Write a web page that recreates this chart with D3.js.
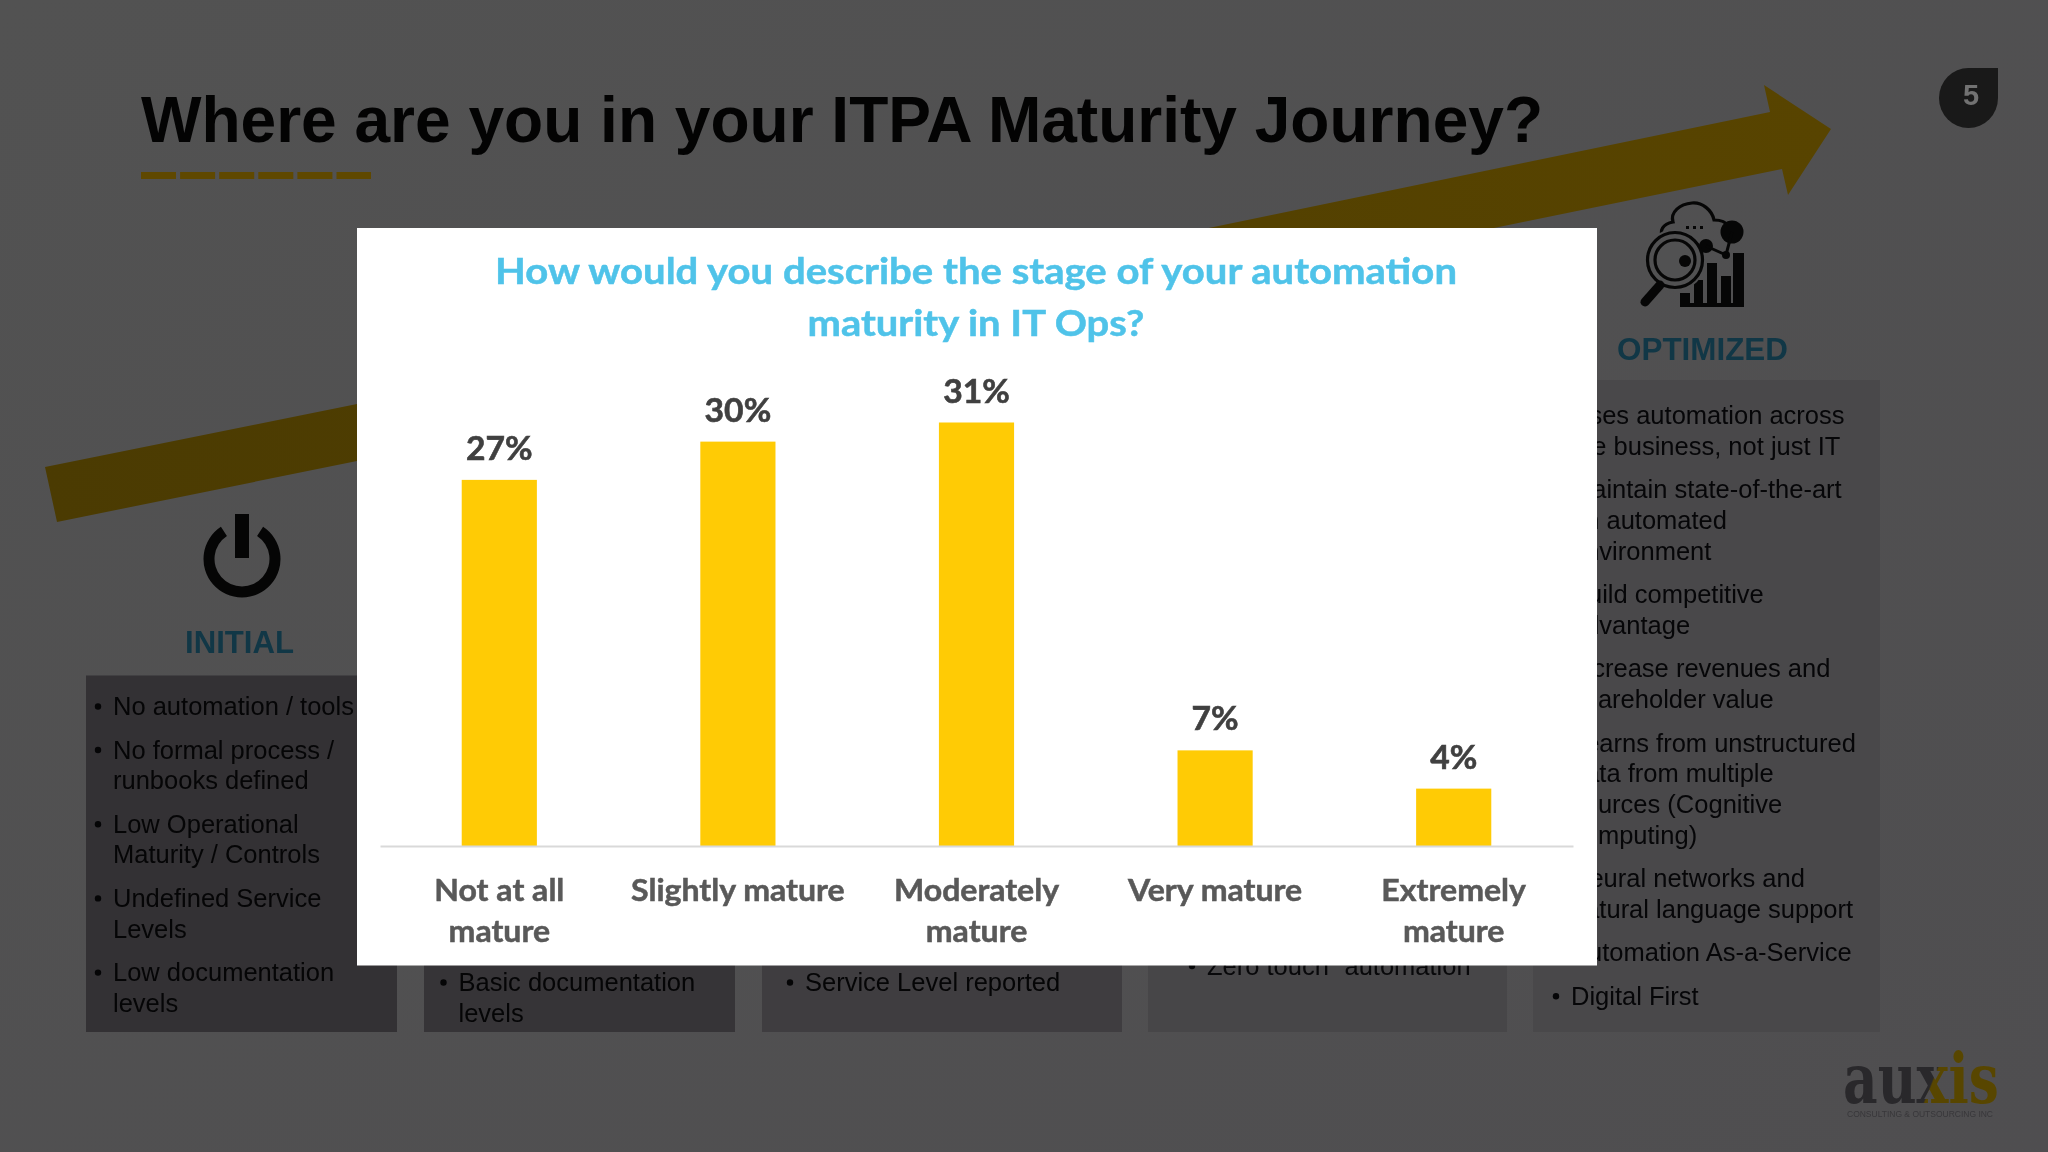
<!DOCTYPE html>
<html><head><meta charset="utf-8">
<script src="https://cdn.jsdelivr.net/npm/d3@7/dist/d3.min.js"></script>
<style>html,body{margin:0;padding:0;background:#505051;overflow:hidden}svg{display:block;filter:blur(0.45px)}</style>
</head><body><svg id="c" width="2048" height="1152"></svg>
<script>
const categories = [["Not at all","mature"],["Slightly mature"],["Moderately","mature"],["Very mature"],["Extremely","mature"]];
const categoryKeys = categories.map(d => d.join(" "));
const values = [26.8, 29.6, 31, 7.0, 4.2];
const valueLabels = ["27%","30%","31%","7%","4%"];
const chartTitle = ["How would you describe the stage of your automation","maturity in IT Ops?"];
const slideTitle = "Where are you in your ITPA Maturity Journey?";
const initialItems = [["No automation / tools"],["No formal process /","runbooks defined"],["Low Operational","Maturity / Controls"],["Undefined Service","Levels"],["Low documentation","levels"]];
const managedItems = [["Basic documentation","levels"]];
const standardItems = [["Service Level reported"]];
const advancedItems = [["Zero touch\u201D automation"]];
const optimizedItems = [["Uses automation across","the business, not just IT"],["Maintain state-of-the-art","an automated","environment"],["Build competitive","advantage"],["Increase revenues and","shareholder value"],["Learns from unstructured","data from multiple","sources (Cognitive","computing)"],["Neural networks and","natural language support"],["Automation As-a-Service"],["Digital First"]];

const svg = d3.select("#c");
const defs = svg.append("defs");
const bg = defs.append("linearGradient").attr("id","bg").attr("x1",0).attr("y1",0).attr("x2",1).attr("y2",1);
bg.append("stop").attr("offset",0).attr("stop-color","#525252");
bg.append("stop").attr("offset",1).attr("stop-color","#4f4e50");
const ag = defs.append("linearGradient").attr("id","arrowG").attr("gradientUnits","userSpaceOnUse").attr("x1",45).attr("y1",490).attr("x2",1830).attr("y2",130);
ag.append("stop").attr("offset",0).attr("stop-color","#4b3b02");
ag.append("stop").attr("offset",1).attr("stop-color","#584400");
const lg = defs.append("linearGradient").attr("id","logoG").attr("gradientUnits","userSpaceOnUse").attr("x1",1930).attr("y1",1066).attr("x2",1945).attr("y2",1072);
lg.append("stop").attr("offset",0.45).attr("stop-color","#29282b");
lg.append("stop").attr("offset",0.55).attr("stop-color","#584600");
svg.append("rect").attr("width",2048).attr("height",1152).attr("fill","url(#bg)");

// slide title
svg.append("text").attr("x",141).attr("y",141.5).attr("font-family","Liberation Sans").attr("font-weight",700)
  .attr("font-size",64).attr("fill","#030303").attr("textLength",1402).attr("lengthAdjust","spacingAndGlyphs").text(slideTitle);
// dashes
svg.append("line").attr("x1",141).attr("x2",371).attr("y1",175.5).attr("y2",175.5).attr("stroke","#5f4800").attr("stroke-width",7)
  .attr("stroke-dasharray","35 4.1");

// arrow
svg.append("path").attr("fill","url(#arrowG)").attr("d","M45,467 L357,404 L1770,112 L1764,85 L1831,129 L1788,195 L1782,169 L357,461 L57,522 Z");

// boxes
const boxes = [
 {x:86,w:311,y:675.5,f:"#333134"},{x:424,w:311,y:675.5,f:"#363437"},{x:762,w:360,y:675.5,f:"#3f3d40"},
 {x:1148,w:359,y:675.5,f:"#474648"},{x:1533,w:347,y:380,f:"#49484a"}];
svg.selectAll("rect.box").data(boxes).join("rect").attr("class","box")
  .attr("x",d=>d.x).attr("y",d=>d.y).attr("width",d=>d.w).attr("height",d=>1032-d.y).attr("fill",d=>d.f);

// bullet lists
function list(items,x,y0,color){
  const lh=30.7, pg=43.5; let y=y0;
  const g=svg.append("g").attr("font-family","Liberation Sans").attr("font-size",25.5).attr("fill",color);
  items.forEach(par=>{
    g.append("circle").attr("cx",x-15).attr("cy",y-8.5).attr("r",3.2).attr("fill",color);
    par.forEach((t,i)=>{g.append("text").attr("x",x).attr("y",y).text(t); y+= i<par.length-1?lh:pg;});
  });
}
list(initialItems,113,715,"#050506");
list(managedItems,458.5,991,"#050506");
list(standardItems,805,991,"#050506");
list(advancedItems,1207,974.5,"#08080a");
list(optimizedItems,1571,424,"#060608");

// stage headings
const heads=[["INITIAL",185,652.5,109],["OPTIMIZED",1617,360,171]];
heads.forEach(h=>svg.append("text").attr("x",h[1]).attr("y",h[2]).attr("font-family","Liberation Sans").attr("font-weight",700)
  .attr("font-size",31.5).attr("fill","#113746").attr("textLength",h[3]).attr("lengthAdjust","spacingAndGlyphs").text(h[0]));

// power icon
const pow=svg.append("g").attr("transform","translate(242,559)").attr("fill","#050505");
pow.append("path").attr("d",d3.arc()({innerRadius:27.5,outerRadius:38.5,startAngle:0.58,endAngle:2*Math.PI-0.58}));
pow.append("rect").attr("x",-7).attr("y",-45).attr("width",14).attr("height",44);

// optimized icon
const ic=svg.append("g").attr("fill","#060606");
ic.append("path").attr("fill","none").attr("stroke","#060606").attr("stroke-width",3.2)
  .attr("d","M1664,238 C1658,231 1663,224 1673,222 C1670,212 1680,204 1692,203 C1702,202 1712,210 1714,220 C1720,220 1726,222 1728,226");
ic.selectAll("rect.dot").data([1686,1693,1700]).join("rect").attr("class","dot").attr("x",d=>d).attr("y",226).attr("width",3).attr("height",3);
[[1680,293,10],[1694,280,9],[1707,263,10],[1721,276,10],[1733,253,11]].forEach(b=>ic.append("rect").attr("x",b[0]).attr("y",b[1]).attr("width",b[2]).attr("height",307-b[1]));
ic.append("rect").attr("x",1680).attr("y",303).attr("width",64).attr("height",4);
ic.append("circle").attr("cx",1675).attr("cy",260).attr("r",31).attr("fill","#515152");
ic.append("circle").attr("cx",1732).attr("cy",232).attr("r",11.5);
ic.append("circle").attr("cx",1706).attr("cy",246).attr("r",7);
ic.append("circle").attr("cx",1726).attr("cy",255).attr("r",4);
ic.append("path").attr("fill","none").attr("stroke","#060606").attr("stroke-width",3).attr("d","M1706,246 L1726,255 L1732,232");
ic.append("circle").attr("cx",1675).attr("cy",260).attr("r",27.5).attr("fill","none").attr("stroke","#060606").attr("stroke-width",3.2);
ic.append("circle").attr("cx",1675).attr("cy",260).attr("r",20).attr("fill","none").attr("stroke","#060606").attr("stroke-width",3.2);
ic.append("circle").attr("cx",1685).attr("cy",261).attr("r",6);
ic.append("line").attr("x1",1660).attr("y1",285).attr("x2",1645).attr("y2",302).attr("stroke","#060606").attr("stroke-width",9).attr("stroke-linecap","round");

// page badge
svg.append("path").attr("fill","#191919").attr("d","M1998,68 L1998,98 A29.5,30 0 1 1 1939,98 A29.5,30 0 0 1 1968.5,68 Z");
svg.append("text").attr("x",1971).attr("y",105).attr("text-anchor","middle").attr("font-family","Liberation Sans").attr("font-weight",700)
  .attr("font-size",29).attr("fill","#727272").text("5");

// logo
svg.append("text").attr("x",1843).attr("y",1103).attr("font-family","DejaVu Serif").attr("font-weight",700)
  .attr("font-size",69).attr("fill","url(#logoG)").attr("textLength",156).attr("lengthAdjust","spacingAndGlyphs").text("auxis");
svg.append("text").attr("x",1847).attr("y",1117).attr("font-family","Liberation Sans").attr("font-size",9.5).attr("fill","#38373a")
  .attr("textLength",146).attr("lengthAdjust","spacingAndGlyphs").text("CONSULTING & OUTSOURCING INC");

// white panel
svg.append("rect").attr("x",357).attr("y",228).attr("width",1240).attr("height",737.5).attr("fill","#fff");

// chart title
svg.selectAll("text.ct").data(chartTitle).join("text").attr("class","ct")
  .attr("x",976).attr("y",(d,i)=>284+i*52).attr("text-anchor","middle")
  .attr("font-family","Lato").attr("font-weight",700).attr("font-size",37).attr("fill","#4fc3e9")
  .attr("stroke","#4fc3e9").attr("stroke-width",0.5)
  .attr("textLength",(d,i)=>i?337:962).attr("lengthAdjust","spacingAndGlyphs").text(d=>d);

// chart
const x=d3.scaleBand().domain(categoryKeys).range([380,1573]).paddingInner(0.685).paddingOuter(0.3425);
const y=d3.scaleLinear().domain([0,31]).range([846,422.5]);
svg.selectAll("rect.bar").data(values).join("rect").attr("class","bar")
  .attr("x",(d,i)=>x(categoryKeys[i])).attr("width",x.bandwidth())
  .attr("y",d=>y(d)).attr("height",d=>y(0)-y(d)).attr("fill","#ffcb05");
svg.selectAll("text.val").data(values).join("text").attr("class","val")
  .attr("transform",(d,i)=>`translate(${x(categoryKeys[i])+x.bandwidth()/2},${y(d)-20}) scale(1.02,1)`)
  .attr("text-anchor","middle").attr("font-family","Lato").attr("font-weight",700).attr("font-size",33)
  .attr("fill","#404040").attr("stroke","#404040").attr("stroke-width",0.6)
  .text((d,i)=>valueLabels[i]);
const ax=svg.append("g").attr("transform","translate(0,846)")
  .call(d3.axisBottom(x).tickSize(0).tickPadding(55));
ax.select(".domain").attr("stroke","#d9d9d9").attr("stroke-width",2);
ax.selectAll(".tick text").each(function(d,i){
  const t=d3.select(this); const yy=+t.attr("y"); t.text(null).attr("dy",null).attr("y",null)
    .attr("transform",`translate(0,${yy-0.5}) scale(1.07,1)`)
    .attr("font-family","Lato").attr("font-weight",700).attr("font-size",30)
    .attr("fill","#595959").attr("stroke","#595959").attr("stroke-width",0.5);
  categories[i].forEach((s,j)=>t.append("tspan").attr("x",0).attr("y",j*42).text(s));
});
</script></body></html>
